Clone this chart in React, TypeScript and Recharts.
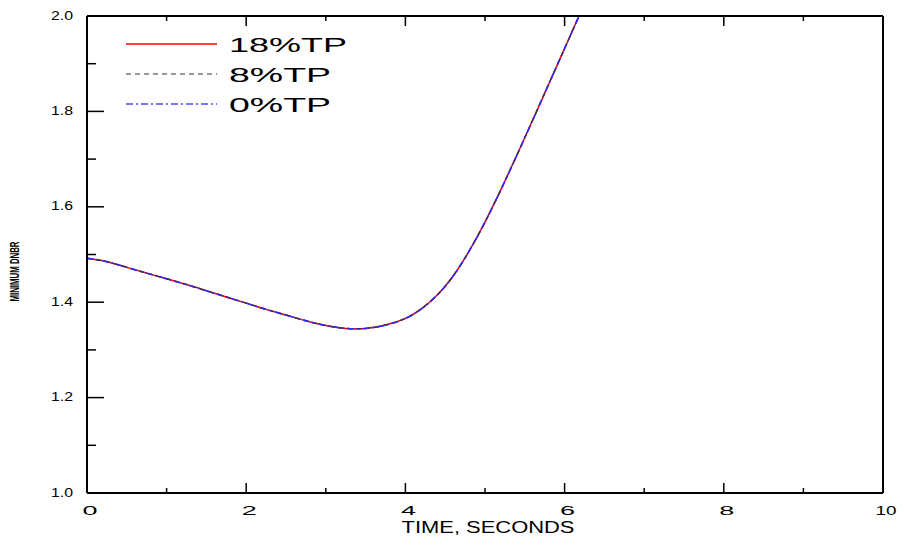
import React from 'react';
import { LineChart, Line, XAxis, YAxis, Legend, Label } from 'recharts';

const timeSec = [0, 0.25, 0.5, 0.75, 1.0, 1.25, 1.5, 1.75, 2.0, 2.25, 2.5, 2.75, 3.0, 3.25, 3.5, 3.75, 4.0, 4.2, 4.4, 4.6, 4.8, 5.0, 5.2, 5.4, 5.6, 5.8, 6.0, 6.2];
const dnbr18 = [1.492, 1.485, 1.473, 1.461, 1.449, 1.437, 1.424, 1.411, 1.398, 1.385, 1.373, 1.361, 1.351, 1.345, 1.345, 1.352, 1.366, 1.386, 1.415, 1.455, 1.507, 1.568, 1.636, 1.708, 1.782, 1.857, 1.932, 2.007];
const dnbr8 = [1.492, 1.485, 1.473, 1.461, 1.449, 1.437, 1.424, 1.411, 1.398, 1.385, 1.373, 1.361, 1.351, 1.345, 1.345, 1.352, 1.366, 1.386, 1.415, 1.455, 1.507, 1.568, 1.636, 1.708, 1.782, 1.857, 1.932, 2.007];
const dnbr0 = [1.492, 1.485, 1.473, 1.461, 1.449, 1.437, 1.424, 1.411, 1.398, 1.385, 1.373, 1.361, 1.351, 1.345, 1.345, 1.352, 1.366, 1.386, 1.415, 1.455, 1.507, 1.568, 1.636, 1.708, 1.782, 1.857, 1.932, 2.007];
const seriesNames = ['18%TP', '8%TP', '0%TP'];

const xMajorTicks = [0, 2, 4, 6, 8, 10];
const xMinorTicks = [1, 3, 5, 7, 9];
const xTickLabels = ['0', '2', '4', '6', '8', '10'];
const yMajorTicks = [1.0, 1.2, 1.4, 1.6, 1.8, 2.0];
const yMinorTicks = [1.1, 1.3, 1.5, 1.7, 1.9];
const yTickLabels = ['1.0', '1.2', '1.4', '1.6', '1.8', '2.0'];
const xTitle = 'TIME, SECONDS';
const yTitle = 'MINIMUM DNBR';

const data = timeSec.map((t, i) => ({ t, s18: dnbr18[i], s8: dnbr8[i], s0: dnbr0[i] }));
const xTicks = [...xMajorTicks, ...xMinorTicks].sort((a, b) => a - b);
const yTicks = [...yMajorTicks, ...yMinorTicks].sort((a, b) => a - b);

const FONT = '"Liberation Sans", Arial, sans-serif';
const M = 8;
const majorIndex = (list: number[], v: number) => list.findIndex((m) => Math.abs(m - v) < 1e-6);

const BottomTick = (p: any) => {
  const { x, y, payload } = p;
  const idx = majorIndex(xMajorTicks, payload.value);
  const ay = y - M;
  const len = idx >= 0 ? 10 : 5;
  const lbl = idx >= 0 ? xTickLabels[idx] : '';
  return (
    <g>
      <line x1={x} x2={x} y1={ay} y2={ay - len} stroke="#000" strokeWidth={1.5} />
      {idx >= 0 && (
        <text x={x + 3} y={ay + 22} textAnchor="middle" fontSize={12.5} fontFamily={FONT} fill="#000"
          textLength={lbl.length === 1 ? 15 : 21} lengthAdjust="spacingAndGlyphs">{lbl}</text>
      )}
    </g>
  );
};

const TopTick = (p: any) => {
  const { x, y, payload } = p;
  const idx = majorIndex(xMajorTicks, payload.value);
  const ay = y + M;
  const len = idx >= 0 ? 10 : 5;
  return <line x1={x} x2={x} y1={ay} y2={ay + len} stroke="#000" strokeWidth={1.5} />;
};

const LeftTick = (p: any) => {
  const { x, y, payload } = p;
  const idx = majorIndex(yMajorTicks, payload.value);
  const ax = x + M;
  const len = idx >= 0 ? 17 : 9;
  const lbl = idx >= 0 ? yTickLabels[idx] : '';
  return (
    <g>
      <line x1={ax} x2={ax + len} y1={y} y2={y} stroke="#000" strokeWidth={1.5} />
      {idx >= 0 && (
        <text x={ax - 14} y={y + 3.5} textAnchor="end" fontSize={12} fontFamily={FONT} fill="#000"
          textLength={22} lengthAdjust="spacingAndGlyphs">{lbl}</text>
      )}
    </g>
  );
};

const RightTick = (p: any) => {
  const { x, y, payload } = p;
  const idx = majorIndex(yMajorTicks, payload.value);
  const ax = x - M;
  const len = idx >= 0 ? 15 : 8;
  return <line x1={ax} x2={ax - len} y1={y} y2={y} stroke="#000" strokeWidth={1.5} />;
};

const XTitle = (p: any) => {
  const vb = p.viewBox || {};
  return (
    <text x={vb.x + vb.width / 2 + 3} y={vb.y + 40} textAnchor="middle" fontSize={16} fontFamily={FONT} fill="#000"
      textLength={173} lengthAdjust="spacingAndGlyphs">{xTitle}</text>
  );
};

const YTitle = (p: any) => {
  const vb = p.viewBox || {};
  const cx = vb.x - 12;
  const cy = vb.y + vb.height / 2 + 17;
  return (
    <text x={cx} y={cy} transform={`rotate(-90 ${cx} ${cy})`} textAnchor="middle" dominantBaseline="central"
      fontSize={12} fontWeight="bold" fontFamily={FONT} fill="#000" textLength={60} lengthAdjust="spacingAndGlyphs">{yTitle}</text>
  );
};

const LegendBox = (props: any) => {
  const items = [...(props.payload || [])].sort(
    (a: any, b: any) => seriesNames.indexOf(a.value) - seriesNames.indexOf(b.value)
  );
  const textLens = [118, 102, 102];
  const legendStroke = ['#ff0000', '#777777', '#4a4aff'];
  return (
    <svg width={260} height={95} style={{ display: 'block' }}>
      {items.map((it: any, i: number) => {
        const cy = 19 + i * 30;
        return (
          <g key={i}>
            <line x1={6} x2={97} y1={cy} y2={cy} stroke={legendStroke[i]}
              strokeWidth={1.5} strokeDasharray={it.payload?.strokeDasharray} />
            <text x={109} y={cy + 8} fontSize={20} fontFamily={FONT} fill="#000"
              textLength={textLens[i]} lengthAdjust="spacingAndGlyphs">{it.value}</text>
          </g>
        );
      })}
    </svg>
  );
};

export default function App() {
  return (
    <div style={{ position: 'absolute', left: 0, top: 0, background: '#fff' }}>
      <LineChart width={904} height={545} data={data} margin={{ top: 15, right: 20, bottom: 22, left: 27 }}>
        <XAxis dataKey="t" type="number" domain={[0, 10]} ticks={xTicks} interval={0} height={30} allowDataOverflow
          axisLine={{ stroke: '#000', strokeWidth: 2 }} tickLine={false} tickSize={0} tickMargin={M}
          tick={(p: any) => <BottomTick {...p} />}>
          <Label content={(p: any) => <XTitle {...p} />} />
        </XAxis>
        <XAxis xAxisId="top" dataKey="t" type="number" orientation="top" domain={[0, 10]} ticks={xTicks} interval={0}
          height={1} axisLine={{ stroke: '#000', strokeWidth: 2 }} tickLine={false} tickSize={0} tickMargin={M}
          tick={(p: any) => <TopTick {...p} />} />
        <YAxis type="number" domain={[1, 2]} ticks={yTicks} interval={0} width={60} allowDataOverflow
          axisLine={{ stroke: '#000', strokeWidth: 2 }} tickLine={false} tickSize={0} tickMargin={M}
          tick={(p: any) => <LeftTick {...p} />}>
          <Label content={(p: any) => <YTitle {...p} />} />
        </YAxis>
        <YAxis yAxisId="right" type="number" orientation="right" domain={[1, 2]} ticks={yTicks} interval={0} width={1}
          axisLine={{ stroke: '#000', strokeWidth: 2 }} tickLine={false} tickSize={0} tickMargin={M}
          tick={(p: any) => <RightTick {...p} />} />
        <Legend layout="horizontal" verticalAlign="middle" align="center" content={(p: any) => <LegendBox {...p} />}
          wrapperStyle={{ position: 'absolute', left: 120, top: 25, width: 260, height: 95 }} />
        <Line type="natural" dataKey="s18" name={seriesNames[0]} stroke="#ff0000" strokeWidth={1.5} dot={false} isAnimationActive={false} />
        <Line type="natural" dataKey="s8" name={seriesNames[1]} stroke="#333333" strokeWidth={1.5} strokeDasharray="5 4" dot={false} isAnimationActive={false} />
        <Line type="natural" dataKey="s0" name={seriesNames[2]} stroke="#2b2bff" strokeWidth={1.5} strokeDasharray="7 3 2 3" dot={false} isAnimationActive={false} />
      </LineChart>
    </div>
  );
}
